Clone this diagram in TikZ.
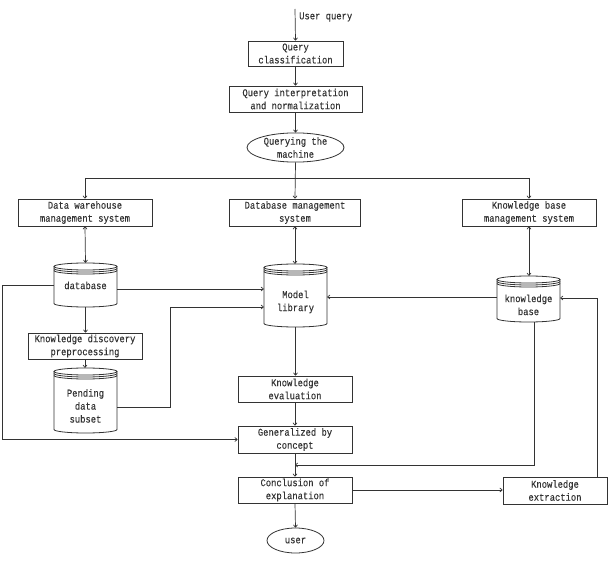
\documentclass[tikz,border=0pt]{standalone}
\usepackage{fontspec}
\setmainfont{Liberation Mono}[FakeStretch=0.85, FakeBold=0.15]
\usetikzlibrary{arrows.meta,calc,shapes.geometric}
\newcommand\cylshape[4]{% cx, cy, half width, half height
  \draw[cylline] (#1,#2-#4+3.5) ellipse [x radius=#3pt, y radius=3.5pt];
  \draw[cylline] (#1-#3,#2-#4+5.5) arc[start angle=180,end angle=360,x radius=#3pt,y radius=3.5pt];
  \draw[cylline] (#1-#3,#2-#4+7.5) arc[start angle=180,end angle=360,x radius=#3pt,y radius=3.5pt];
  \draw[cylline] (#1-#3,#2-#4+3.5) -- (#1-#3,#2+#4-3.5)
     arc[start angle=180,end angle=360,x radius=#3pt,y radius=3.5pt] -- (#1+#3,#2-#4+3.5);
}
\newcommand\lowtext[2]{\raisebox{-#1pt}[\height][\depth]{\begin{tabular}{@{}c@{}}#2\end{tabular}}}
\begin{document}
\begin{tikzpicture}[x=1pt,y=-1pt,
  font=\fontsize{10.4}{13}\selectfont, text=black!80,
  every node/.style={inner sep=0pt, align=center},
  box/.style={draw=black!80, line width=0.8pt, rectangle},
  oval/.style={draw=black!80, line width=0.8pt, ellipse},
  cylnode/.style={rectangle},
  cylline/.style={draw=black!80, line width=0.8pt},
  link/.style={draw=black!80, line width=0.7pt},
  arr/.style={link, -{To[length=3pt,width=4.5pt]}},
  darr/.style={link, {To[length=3pt,width=4.5pt]}-{To[length=3pt,width=4.5pt]}}]
\useasboundingbox (0,0) rectangle (610,564);

% top column
\coordinate (start) at (295,9);
\node[anchor=west] (uq) at (299,17) {User query};
\node[box, minimum width=95, minimum height=25] (qc) at (295.5,53.5) {Query\\classification};
\node[box, minimum width=133, minimum height=26] (qi) at (295.5,99) {Query interpretation\\and normalization};
\node[oval, minimum width=97, minimum height=29] (qm) at (295.5,147.5) {Querying the\\machine};

% management systems
\coordinate (bus) at (295,178);
\node[box, minimum width=134, minimum height=27] (dw) at (85,212.5) {Data warehouse\\management system};
\node[box, minimum width=131, minimum height=27] (dbm) at (295,212.5) {Database management\\system};
\node[box, minimum width=134, minimum height=27] (kbm) at (529,212.5) {Knowledge base\\management system};

% cylinders
\cylshape{85.5}{285}{31.5}{22}
\node[cylnode, minimum width=63, minimum height=44] (db) at (85.5,285) {\lowtext{1.5}{database}};
\cylshape{295.5}{295.5}{31.5}{31.5}
\node[cylnode, minimum width=63, minimum height=63] (ml) at (295.5,295.5) {\lowtext{6.5}{Model\\library}};
\cylshape{528.5}{299}{31.5}{23}
\node[cylnode, minimum width=63, minimum height=46] (kb) at (528.5,299) {\lowtext{7}{knowledge\\base}};
\cylshape{85.5}{400.5}{31.5}{32.5}
\node[cylnode, minimum width=63, minimum height=65] (pd) at (85.5,400.5) {\lowtext{6.5}{Pending\\data\\subset}};

% other boxes
\node[box, minimum width=114, minimum height=26] (kdp) at (85,346) {Knowledge discovery\\preprocessing};
\node[box, minimum width=114, minimum height=26] (kev) at (295,389) {Knowledge\\evaluation};
\node[box, minimum width=114, minimum height=27] (gen) at (295,439.5) {Generalized by\\concept};
\node[box, minimum width=114, minimum height=26] (con) at (295,490) {Conclusion of\\explanation};
\node[box, minimum width=104, minimum height=27] (kx) at (555,490.5) {Knowledge\\extraction};
\node[oval, minimum width=57, minimum height=25] (usr) at (295.5,540.5) {user};

% connectors: top column
\draw[arr] (start) -- (qc.north);
\draw[arr] (qc.south) -- (qi.north);
\draw[arr] (qi.south) -- (qm.south |- qm.north);
\draw[arr] (qm.south) -- (dbm.north);
\draw[link] (bus -| dw.north) -- (bus -| kbm.north);
\draw[arr] (bus -| dw.north) -- (dw.north);
\draw[arr] (bus -| kbm.north) -- (kbm.north);

% double arrows
\draw[darr] (dw.south) -- (db.north);
\draw[darr] (dbm.south) -- (dbm.south |- ml.north);
\draw[darr] (kbm.south) -- (kbm.south |- kb.north);

% left part
\draw[arr] (db.south) -- (db.south |- kdp.north);
\draw[arr] (kdp.south) -- (kdp.south |- pd.north);
\coordinate (a1) at ($(db.east)+(0,4)$);
\draw[arr] (a1) -- (a1 -| ml.west);
\draw[arr] (db.west) -- ++(-51,0) |- (gen.west);
\coordinate (a2) at ($(pd.east)+(0,6.5)$);
\coordinate (a3) at ($(ml.west)+(0,11.5)$);
\draw[arr] (a2) -- ++(53,0) |- (a3);

% centre column
\draw[arr] (ml.south) -- (ml.south |- kev.north);
\draw[arr] (kev.south) -- (gen.north);
\draw[arr] (gen.south) -- (con.north);
\draw[arr] (con.south) -- (usr.north);

% right part
\coordinate (a5) at ($(kb.west)+(0,-2)$);
\draw[arr] (a5) -- (a5 -| ml.east);
\coordinate (a4) at ($(kb.south)+(5.5,0)$);
\coordinate (a7) at ($(gen.south)!0.5!(con.north)$);
\draw[arr] (a4) |- (a7);
\draw[arr] (con.east) -- (con.east -| kx.west);
\coordinate (a6) at ($(kx.north)+(42,0)$);
\draw[arr] (a6) |- ($(kb.east)+(0,-1)$);
\end{tikzpicture}
\end{document}
